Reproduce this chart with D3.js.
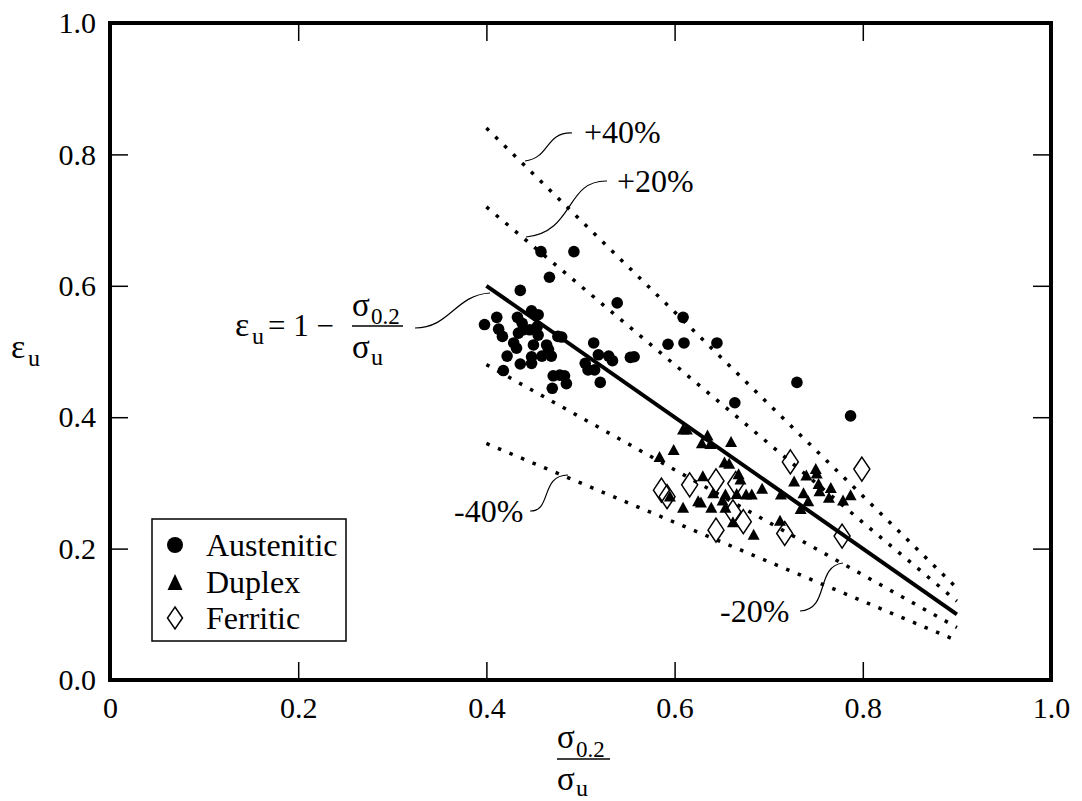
<!DOCTYPE html>
<html>
<head>
<meta charset="utf-8">
<script src="https://cdn.jsdelivr.net/npm/d3@7"></script>
<style>
  body { margin: 0; background: #fff; }
  svg text { font-family: "Liberation Serif", "Times New Roman", serif; fill: #000; }
</style>
</head>
<body>
<svg id="chart" width="1082" height="801"></svg>
<script>
// values
var austX = [0.458, 0.493, 0.467, 0.436, 0.448, 0.455, 0.398, 0.411, 0.433, 0.413, 0.417, 0.438, 0.439, 0.434, 0.446, 0.454, 0.455, 0.429, 0.432, 0.450, 0.464, 0.466, 0.422, 0.436, 0.448, 0.448, 0.459, 0.469, 0.476, 0.480, 0.418, 0.471, 0.478, 0.483, 0.470, 0.485, 0.514, 0.519, 0.530, 0.534, 0.505, 0.508, 0.515, 0.521, 0.553, 0.557, 0.539, 0.609, 0.593, 0.610, 0.645, 0.664, 0.730, 0.787];
var austY = [0.652, 0.652, 0.613, 0.593, 0.562, 0.556, 0.541, 0.552, 0.552, 0.534, 0.523, 0.543, 0.533, 0.528, 0.533, 0.538, 0.525, 0.513, 0.505, 0.510, 0.510, 0.503, 0.493, 0.481, 0.492, 0.482, 0.493, 0.493, 0.523, 0.522, 0.471, 0.463, 0.464, 0.463, 0.444, 0.451, 0.513, 0.495, 0.493, 0.486, 0.482, 0.472, 0.472, 0.453, 0.491, 0.492, 0.574, 0.552, 0.511, 0.513, 0.513, 0.422, 0.453, 0.402];

var duplexX = [0.609, 0.613, 0.635, 0.629, 0.638, 0.660, 0.599, 0.584, 0.653, 0.658, 0.630, 0.668, 0.670, 0.595, 0.641, 0.654, 0.666, 0.676, 0.682, 0.693, 0.651, 0.625, 0.628, 0.609, 0.639, 0.654, 0.662, 0.684, 0.713, 0.712, 0.727, 0.737, 0.734, 0.742, 0.740, 0.750, 0.751, 0.753, 0.754, 0.766, 0.764, 0.779, 0.787];
var duplexY = [0.382, 0.382, 0.373, 0.361, 0.360, 0.363, 0.351, 0.340, 0.332, 0.330, 0.311, 0.314, 0.306, 0.280, 0.285, 0.283, 0.284, 0.283, 0.283, 0.292, 0.274, 0.273, 0.271, 0.263, 0.263, 0.263, 0.241, 0.222, 0.283, 0.243, 0.303, 0.285, 0.261, 0.273, 0.312, 0.322, 0.315, 0.299, 0.288, 0.293, 0.278, 0.274, 0.282];

var ferrX = [0.586, 0.592, 0.616, 0.644, 0.665, 0.662, 0.673, 0.644, 0.717, 0.723, 0.778, 0.799];
var ferrY = [0.289, 0.279, 0.297, 0.303, 0.299, 0.256, 0.241, 0.228, 0.223, 0.332, 0.219, 0.321];

var tickVals = [0, 0.2, 0.4, 0.6, 0.8, 1.0];
var xTickLabels = ["0", "0.2", "0.4", "0.6", "0.8", "1.0"];
var yTickLabels = ["0.0", "0.2", "0.4", "0.6", "0.8", "1.0"];

// eps = 1 - ratio, from ratio 0.4 to 0.9, with +-20% and +-40% bands
var lineRange = [0.4, 0.9];
var bandFactors = [1.4, 1.2, 0.8, 0.6];
var bandLabels = ["+40%", "+20%", "-20%", "-40%"];
var legendNames = ["Austenitic", "Duplex", "Ferritic"];

function draw() {
  var svg = d3.select("#chart");
  var mLeft = 110, mRight = 1051, mTop = 23, mBottom = 680;

  var x = d3.scaleLinear().domain([0, 1]).range([mLeft, mRight]);
  var y = d3.scaleLinear().domain([0, 1]).range([mBottom, mTop]);

  // axes, ticks pointing inwards
  svg.append("g")
    .attr("transform", "translate(0," + mBottom + ")")
    .call(d3.axisBottom(x).tickValues(tickVals).tickSizeInner(-18).tickSizeOuter(0).tickPadding(17)
      .tickFormat(function(d, i) { return xTickLabels[i]; }));
  svg.append("g")
    .attr("transform", "translate(" + mLeft + ",0)")
    .call(d3.axisLeft(y).tickValues(tickVals).tickSizeInner(-18).tickSizeOuter(0).tickPadding(14)
      .tickFormat(function(d, i) { return yTickLabels[i]; }));
  svg.append("g")
    .attr("transform", "translate(0," + mTop + ")")
    .call(d3.axisTop(x).tickValues(tickVals).tickSizeInner(-18).tickSizeOuter(0).tickFormat(""));
  svg.append("g")
    .attr("transform", "translate(" + mRight + ",0)")
    .call(d3.axisRight(y).tickValues(tickVals).tickSizeInner(-18).tickSizeOuter(0).tickFormat(""));

  svg.selectAll(".domain").remove();
  svg.selectAll(".tick line").attr("stroke", "#000").attr("stroke-width", 1.5);
  svg.selectAll(".tick text").style("font-size", "30px").style("font-family", "Liberation Serif, serif");

  svg.append("rect")
    .attr("x", mLeft).attr("y", mTop)
    .attr("width", mRight - mLeft).attr("height", mBottom - mTop)
    .attr("fill", "none").attr("stroke", "#000").attr("stroke-width", 4);

  // reference line and bands
  var line = d3.line().x(function(d) { return x(d[0]); }).y(function(d) { return y(d[1]); });

  bandFactors.forEach(function(f) {
    svg.append("path")
      .datum(lineRange.map(function(r) { return [r, (1 - r) * f]; }))
      .attr("d", line)
      .attr("fill", "none").attr("stroke", "#000")
      .attr("stroke-width", 3.5).attr("stroke-dasharray", "3.5 9");
  });

  svg.append("path")
    .datum(lineRange.map(function(r) { return [r, 1 - r]; }))
    .attr("d", line)
    .attr("fill", "none").attr("stroke", "#000").attr("stroke-width", 4);

  // markers
  function triPath(w, h) {
    return "M0," + (-h / 2) + "L" + (w / 2) + "," + (h / 2) + "L" + (-w / 2) + "," + (h / 2) + "Z";
  }
  function diaPath(w, h) {
    return "M0," + (-h / 2) + "L" + (w / 2) + ",0L0," + (h / 2) + "L" + (-w / 2) + ",0Z";
  }

  svg.append("g").selectAll("path")
    .data(ferrX.map(function(v, i) { return [v, ferrY[i]]; }))
    .enter().append("path")
    .attr("transform", function(d) { return "translate(" + x(d[0]) + "," + y(d[1]) + ")"; })
    .attr("d", diaPath(16, 24))
    .attr("fill", "none").attr("stroke", "#000").attr("stroke-width", 1.5);

  svg.append("g").selectAll("path")
    .data(duplexX.map(function(v, i) { return [v, duplexY[i]]; }))
    .enter().append("path")
    .attr("transform", function(d) { return "translate(" + x(d[0]) + "," + y(d[1]) + ")"; })
    .attr("d", triPath(12, 11))
    .attr("fill", "#000");

  svg.append("g").selectAll("circle")
    .data(austX.map(function(v, i) { return [v, austY[i]]; }))
    .enter().append("circle")
    .attr("cx", function(d) { return x(d[0]); })
    .attr("cy", function(d) { return y(d[1]); })
    .attr("r", 5.8)
    .attr("fill", "#000");

  // leader curves and labels
  var leaders = [
    { d: "M525,161 C550,158 545,132 572,133", label: bandLabels[0], lx: 584, ly: 143 },
    { d: "M526,237 C575,232 565,180 607,181", label: bandLabels[1], lx: 617, ly: 192 },
    { d: "M843,563 C815,566 830,610 800,611", label: bandLabels[2], lx: 720, ly: 622 },
    { d: "M568,475 C540,475 552,512 530,511", label: bandLabels[3], lx: 454, ly: 522 },
    { d: "M490,293 C455,295 450,328 415,328", label: null }
  ];
  leaders.forEach(function(l) {
    svg.append("path").attr("d", l.d).attr("fill", "none").attr("stroke", "#000").attr("stroke-width", 1.2);
    if (l.label) {
      svg.append("text").attr("x", l.lx).attr("y", l.ly).style("font-size", "32px").text(l.label);
    }
  });

  // formula: eps_u = 1 - sigma0.2 / sigma_u
  var f = svg.append("g").style("font-size", "31px");
  f.append("text").attr("x", 235).attr("y", 336).style("font-size", "34px").text("ε");
  f.append("text").attr("x", 252).attr("y", 344).style("font-size", "24px").text("u");
  f.append("text").attr("x", 268).attr("y", 336).text("= 1 −");
  f.append("text").attr("x", 352).attr("y", 316).style("font-size", "33px").text("σ");
  f.append("text").attr("x", 371).attr("y", 324).style("font-size", "23px").text("0.2");
  f.append("line").attr("x1", 352).attr("x2", 403).attr("y1", 326).attr("y2", 326).attr("stroke", "#000").attr("stroke-width", 1.5);
  f.append("text").attr("x", 352).attr("y", 358).style("font-size", "33px").text("σ");
  f.append("text").attr("x", 371).attr("y", 365).style("font-size", "24px").text("u");

  // axis titles
  var yl = svg.append("g");
  yl.append("text").attr("x", 11).attr("y", 358).style("font-size", "34px").text("ε");
  yl.append("text").attr("x", 28).attr("y", 366).style("font-size", "24px").text("u");

  var xl = svg.append("g");
  xl.append("text").attr("x", 557).attr("y", 748).style("font-size", "33px").text("σ");
  xl.append("text").attr("x", 576).attr("y", 757).style("font-size", "23px").text("0.2");
  xl.append("line").attr("x1", 557).attr("x2", 610).attr("y1", 759).attr("y2", 759).attr("stroke", "#000").attr("stroke-width", 1.5);
  xl.append("text").attr("x", 557).attr("y", 790).style("font-size", "33px").text("σ");
  xl.append("text").attr("x", 576).attr("y", 796).style("font-size", "24px").text("u");

  // legend
  var lg = svg.append("g");
  lg.append("rect").attr("x", 152).attr("y", 519).attr("width", 194).attr("height", 122)
    .attr("fill", "#fff").attr("stroke", "#000").attr("stroke-width", 1.5);
  var rowY = [545, 582, 618];
  lg.append("circle").attr("cx", 175).attr("cy", rowY[0]).attr("r", 8).attr("fill", "#000");
  lg.append("path").attr("transform", "translate(175," + rowY[1] + ")").attr("d", triPath(15, 16)).attr("fill", "#000");
  lg.append("path").attr("transform", "translate(175," + rowY[2] + ")").attr("d", diaPath(15, 22))
    .attr("fill", "none").attr("stroke", "#000").attr("stroke-width", 1.5);
  legendNames.forEach(function(n, i) {
    lg.append("text").attr("x", 206).attr("y", rowY[i]).attr("dy", "0.35em").style("font-size", "32px").text(n);
  });
}

draw();
</script>
</body>
</html>
